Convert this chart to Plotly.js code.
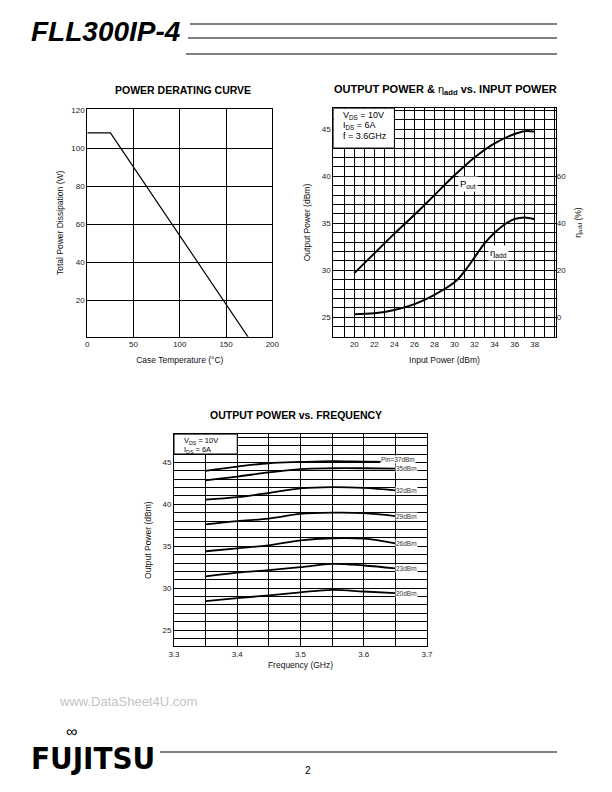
<!DOCTYPE html>
<html>
<head>
<meta charset="utf-8">
<script src="https://cdn.plot.ly/plotly-3.0.1.min.js"></script>
<style>
  body { margin: 0; background: #fff; }
  #gd { width: 612px; height: 792px; }
</style>
</head>
<body>
<div id="gd"></div>
<script>
"use strict";

/* power derating curve */
var caseTemp = [0, 25, 175];
var powerDiss = [108, 108, 0];

/* output power & eta vs input power (f = 3.6GHz) */
var pinDbm = [20, 22, 24, 26, 28, 30, 32, 34, 36, 37, 38];
var poutDbm = [29.7, 31.8, 33.9, 35.9, 38.0, 40.1, 42.0, 43.5, 44.5, 44.8, 44.75];
var etaPin = [20, 22, 24, 26, 28, 30, 31, 32, 33, 34, 35, 36, 37, 38];
var etaAdd = [1.3, 1.7, 3.1, 5.6, 9.6, 14.9, 19.6, 25.5, 31.5, 36, 39.5, 41.8, 42.5, 41.7];

/* output power vs frequency */
var freqGhz = [3.35, 3.40, 3.45, 3.50, 3.55, 3.60, 3.65];
var pinLabels = ["Pin=37dBm", "35dBm", "32dBm", "29dBm", "26dBm", "23dBm", "20dBm"];
var poutFreq = [
	[44.0, 44.5, 44.9, 45.05, 45.15, 45.1, 45.05],
	[42.85, 43.3, 43.8, 44.2, 44.3, 44.3, 44.25],
	[40.55, 40.85, 41.35, 41.9, 42.05, 41.95, 41.65],
	[37.6, 38.0, 38.3, 38.85, 39.0, 38.95, 38.6],
	[34.4, 34.75, 35.1, 35.7, 35.95, 35.9, 35.35],
	[31.4, 31.85, 32.15, 32.5, 32.9, 32.7, 32.35],
	[28.45, 28.8, 29.15, 29.5, 29.8, 29.6, 29.4]
];

/* tick labels */
var tempTicks = [0, 50, 100, 150, 200];
var powerTicks = [20, 40, 60, 80, 100, 120];
var pinTickLabels = [20, 22, 24, 26, 28, 30, 32, 34, 36, 38];
var poutTickLabels = [25, 30, 35, 40, 45];
var etaTicks = [0, 20, 40, 60];
var freqTickLabels = ["3.3", "3.4", "3.5", "3.6", "3.7"];

var FONT = "Liberation Sans, Arial, Helvetica, sans-serif";

/* px -> paper */
function px(x) { return x / 612; }
function py(y) { return 1 - y / 792; }

/* every grid line gets a tick, only some get a label */
function gridTicks(from, to, step, labels)
{
	var vals = [], text = [];
	var n = Math.round((to - from) / step);
	for (var i = 0; i <= n; i++) {
		var v = +(from + i * step).toFixed(3);
		vals.push(v);
		var lab = "";
		for (var j = 0; j < labels.length; j++) {
			if (Math.abs(parseFloat(labels[j]) - v) < 1e-6) lab = String(labels[j]);
		}
		text.push(lab);
	}
	return {tickmode: "array", tickvals: vals, ticktext: text};
}

function axis(extra)
{
	var a = {
		showgrid: true,
		gridcolor: "#000",
		gridwidth: 1,
		showline: true,
		linecolor: "#000",
		linewidth: 1,
		mirror: true,
		zeroline: false,
		ticks: "",
		tickfont: {family: FONT, size: 8, color: "#222"},
		fixedrange: true
	};
	for (var k in extra) a[k] = extra[k];
	return a;
}

function axTitle(text, standoff)
{
	return {text: text, font: {family: FONT, size: 8.5, color: "#111"}, standoff: standoff};
}

function pid_main()
{
	var gd = document.getElementById("gd");

	var data = [];

	data.push({
		x: caseTemp, y: powerDiss,
		xaxis: "x", yaxis: "y",
		type: "scatter", mode: "lines",
		line: {color: "#000", width: 1.2}
	});

	data.push({
		x: pinDbm, y: poutDbm,
		xaxis: "x2", yaxis: "y2",
		type: "scatter", mode: "lines",
		line: {color: "#000", width: 2, shape: "spline", smoothing: 1}
	});
	data.push({
		x: etaPin, y: etaAdd,
		xaxis: "x2", yaxis: "y3",
		type: "scatter", mode: "lines",
		line: {color: "#000", width: 2, shape: "spline", smoothing: 1}
	});

	for (var i = 0; i < poutFreq.length; i++) {
		data.push({
			x: freqGhz, y: poutFreq[i],
			xaxis: "x3", yaxis: "y4",
			type: "scatter", mode: "lines",
			line: {color: "#000", width: 1.8, shape: "spline", smoothing: 1}
		});
	}

	var annotations = [];
	var shapes = [];

	function note(x, y, text, opt)
	{
		var a = {
			xref: "paper", yref: "paper", x: px(x), y: py(y),
			text: text, showarrow: false,
			xanchor: "center", yanchor: "middle",
			font: {family: FONT, size: 9, color: "#000"}
		};
		for (var k in opt) a[k] = opt[k];
		return a;
	}

	/* header */
	annotations.push(note(29, 31, "<b><i>FLL300IP-4</i></b>",
		{xanchor: "left", font: {family: FONT, size: 28, color: "#000"}}));
	shapes.push({type: "line", xref: "paper", yref: "paper",
		x0: px(190), x1: px(557), y0: py(24), y1: py(24), line: {color: "#000", width: 1}});
	shapes.push({type: "line", xref: "paper", yref: "paper",
		x0: px(188), x1: px(557), y0: py(38), y1: py(38), line: {color: "#000", width: 1}});
	shapes.push({type: "line", xref: "paper", yref: "paper",
		x0: px(186), x1: px(557), y0: py(54), y1: py(54), line: {color: "#000", width: 1}});

	/* chart titles */
	var titleFont = {family: FONT, size: 10.5, color: "#000"};
	annotations.push(note(183, 90, "<b>POWER DERATING CURVE</b>", {font: titleFont}));
	annotations.push(note(445, 90,
		"<b>OUTPUT POWER &amp; </b>η<b><sub>add</sub> vs. INPUT POWER</b>",
		{font: {family: FONT, size: 11, color: "#000"}}));
	annotations.push(note(296, 415, "<b>OUTPUT POWER vs. FREQUENCY</b>", {font: titleFont}));

	/* chart 2 condition box */
	shapes.push({type: "rect", xref: "x2", yref: "y2", layer: "above",
		x0: 17.9, x1: 24, y0: 43, y1: 47.23,
		fillcolor: "#fff", line: {color: "#000", width: 1}});
	var boxFont = {family: FONT, size: 9, color: "#000"};
	annotations.push(note(341, 116, "V<sub>DS</sub> = 10V", {xanchor: "left", font: boxFont}));
	annotations.push(note(341, 126, "I<sub>DS</sub> = 6A", {xanchor: "left", font: boxFont}));
	annotations.push(note(341, 136, "f = 3.6GHz", {xanchor: "left", font: boxFont}));

	var labFont = {family: FONT, size: 9.5, color: "#000"};
	annotations.push({xref: "x2", yref: "y2", x: 31.3, y: 39.2,
		text: "P<sub>out</sub>", showarrow: false, bgcolor: "#fff", borderpad: 1,
		font: labFont});
	annotations.push({xref: "x2", yref: "y2", x: 34.35, y: 31.8,
		text: "η<sub>add</sub>", showarrow: false, bgcolor: "#fff", borderpad: 1,
		font: labFont});

	/* chart 3 condition box */
	shapes.push({type: "rect", xref: "x3", yref: "y4", layer: "above",
		x0: 3.3, x1: 3.4, y0: 46, y1: 48.35,
		fillcolor: "#fff", line: {color: "#000", width: 1}});
	var box3Font = {family: FONT, size: 7.5, color: "#000"};
	annotations.push(note(182, 440.5, "V<sub>DS</sub> = 10V", {xanchor: "left", font: box3Font}));
	annotations.push(note(182, 450.5, "I<sub>DS</sub> = 6A", {xanchor: "left", font: box3Font}));

	/* Pin labels at the right end of each curve */
	for (var j = 0; j < pinLabels.length; j++) {
		var last = poutFreq[j][poutFreq[j].length - 1];
		var lab = {xref: "x3", yref: "y4",
			x: freqGhz[freqGhz.length - 1], y: last,
			text: pinLabels[j], showarrow: false,
			xanchor: "left", bgcolor: "#fff", borderpad: 0,
			font: {family: FONT, size: 6.5, color: "#333"}};
		if (j == 0) {
			lab.x = 3.625;
			lab.y = last + 0.35;
		}
		annotations.push(lab);
	}

	/* footer */
	annotations.push(note(57, 701, "www.DataSheet4U.com",
		{xanchor: "left", font: {family: FONT, size: 13, color: "#c4c4c4"}}));
	annotations.push(note(29, 758, "FUJITSU",
		{xanchor: "left", font: {family: "DejaVu Sans Condensed, Liberation Sans Narrow, sans-serif", size: 31, weight: "bold", color: "#000"}}));
	annotations.push(note(71, 731, "∞",
		{font: {family: FONT, size: 16, color: "#000"}}));
	shapes.push({type: "line", xref: "paper", yref: "paper",
		x0: px(160), x1: px(557), y0: py(752), y1: py(752), line: {color: "#000", width: 1}});
	annotations.push(note(308, 770, "2", {font: {family: FONT, size: 10, color: "#000"}}));

	var layout = {
		width: 612,
		height: 792,
		margin: {l: 0, r: 0, t: 0, b: 0, pad: 0},
		paper_bgcolor: "#fff",
		plot_bgcolor: "#fff",
		showlegend: false,

		xaxis: axis({
			domain: [px(87.3), px(272.3)], anchor: "y",
			range: [0, 200], tickmode: "array", tickvals: tempTicks,
			title: axTitle("Case Temperature (°C)", 8)
		}),
		yaxis: axis({
			domain: [py(336.7), py(109)], anchor: "x",
			range: [1, 120.5], tickmode: "array", tickvals: powerTicks,
			title: axTitle("Total Power Dissipation (W)", 6)
		}),

		xaxis2: axis(Object.assign({
			domain: [px(333.3), px(555.7)], anchor: "y2",
			range: [17.9, 40.1],
			title: axTitle("Input Power (dBm)", 8)
		}, gridTicks(18, 40, 1, pinTickLabels))),
		yaxis2: axis(Object.assign({
			domain: [py(336.7), py(108.3)], anchor: "x2",
			range: [22.94, 47.23],
			title: axTitle("Output Power (dBm)", 9)
		}, gridTicks(23, 47, 1, poutTickLabels))),
		yaxis3: {
			overlaying: "y2", anchor: "x2", side: "right",
			range: [-8.24, 88.92], tickmode: "array", tickvals: etaTicks,
			showgrid: false, zeroline: false, showline: false, ticks: "",
			tickfont: {family: FONT, size: 8, color: "#222"}, fixedrange: true,
			title: axTitle("η<sub>add</sub> (%)", 9)
		},

		xaxis3: axis(Object.assign({
			domain: [px(174), px(427)], anchor: "y4",
			range: [3.3, 3.7],
			title: axTitle("Frequency (GHz)", 4)
		}, gridTicks(3.3, 3.7, 0.05, freqTickLabels))),
		yaxis4: axis(Object.assign({
			domain: [py(646), py(434.3)], anchor: "x3",
			range: [23.1, 48.35],
			title: axTitle("Output Power (dBm)", 9)
		}, gridTicks(24, 48, 1, poutTickLabels))),

		annotations: annotations,
		shapes: shapes
	};

	Plotly.newPlot(gd, data, layout, {staticPlot: true});
}

pid_main();
</script>
</body>
</html>
